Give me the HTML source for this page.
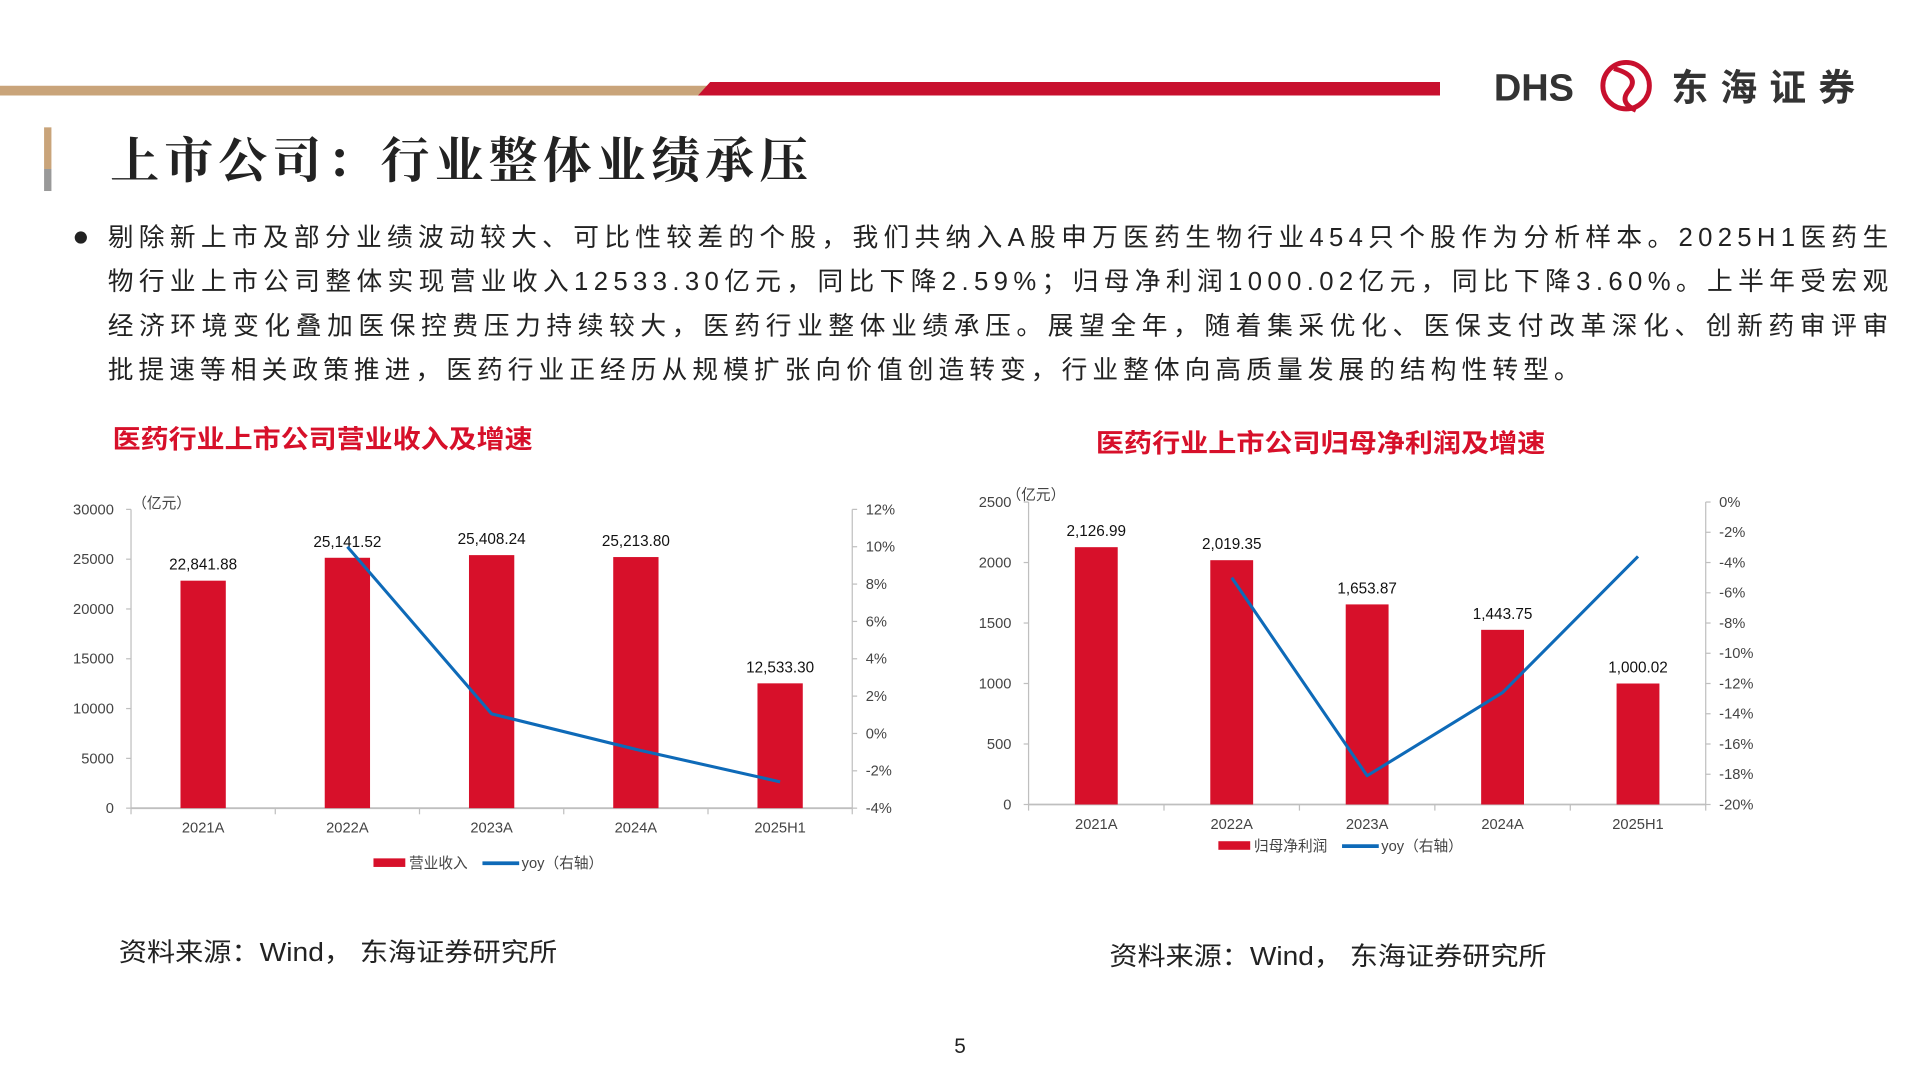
<!DOCTYPE html>
<html><head><meta charset="utf-8">
<style>
html,body{margin:0;padding:0;background:#fff;}
svg{display:block;font-family:"Liberation Sans","Noto Sans CJK SC",sans-serif;}
</style></head>
<body>
<svg id="page" width="1920" height="1080" viewBox="0 0 1568 882" xmlns="http://www.w3.org/2000/svg">
  <polygon points="0,70 580,70 572,78 0,78" fill="#c9a47a"/>
  <polygon points="580,67 1176,67 1176,78 570,78" fill="#c8102e"/>
  <g>
    <text x="1220" y="82" font-size="31" font-weight="bold" fill="#333" font-family="Liberation Sans,sans-serif">DHS</text>
    <circle cx="1328" cy="70" r="19" fill="none" stroke="#c8102e" stroke-width="4"/>
    <path d="M1318 56 Q1340 62 1330 74 Q1322 84 1336 90" fill="none" stroke="#c8102e" stroke-width="4"/>
    <text x="1365" y="82" font-size="30" font-weight="bold" fill="#333" textLength="150" lengthAdjust="spacing" font-family="'Noto Sans CJK SC',sans-serif">东海证券</text>
  </g>
  <rect x="36" y="104" width="6" height="34" fill="#c9a47a"/>
  <rect x="36" y="138" width="6" height="18" fill="#999"/>
  <text x="90" y="145" font-size="40" font-weight="bold" fill="#222" textLength="570" lengthAdjust="spacing" font-family="'Noto Serif CJK SC','Noto Sans CJK SC',serif">上市公司：行业整体业绩承压</text>
  <circle cx="66" cy="194" r="5" fill="#222"/>
  <g font-size="21" fill="#222">
    <text x="88" y="201" textLength="1454" lengthAdjust="spacing">剔除新上市及部分业绩波动较大、可比性较差的个股，我们共纳入A股申万医药生物行业454只个股作为分析样本。2025H1医药生</text>
    <text x="88" y="237" textLength="1454" lengthAdjust="spacing">物行业上市公司整体实现营业收入12533.30亿元，同比下降2.59%；归母净利润1000.02亿元，同比下降3.60%。上半年受宏观</text>
    <text x="88" y="273" textLength="1454" lengthAdjust="spacing">经济环境变化叠加医保控费压力持续较大，医药行业整体业绩承压。展望全年，随着集采优化、医保支付改革深化、创新药审评审</text>
    <text x="88" y="309" textLength="1202" lengthAdjust="spacing">批提速等相关政策推进，医药行业正经历从规模扩张向价值创造转变，行业整体向高质量发展的结构性转型。</text>
  </g>
  <text x="92" y="366" font-size="21" font-weight="bold" fill="#d7102a" textLength="343" lengthAdjust="spacingAndGlyphs">医药行业上市公司营业收入及增速</text>
  <text x="895" y="369" font-size="21" font-weight="bold" fill="#d7102a" textLength="367" lengthAdjust="spacingAndGlyphs">医药行业上市公司归母净利润及增速</text>
  <g id="chart1"></g>
  <g id="chart2"></g>
  <text x="97" y="785" font-size="21" fill="#222" textLength="358" lengthAdjust="spacingAndGlyphs">资料来源：Wind， 东海证券研究所</text>
  <text x="906" y="788" font-size="21" fill="#222" textLength="357" lengthAdjust="spacingAndGlyphs">资料来源：Wind， 东海证券研究所</text>
  <text x="784" y="860" font-size="17" fill="#222" text-anchor="middle">5</text>
</svg>
<script>
const categories = ["2021A","2022A","2023A","2024A","2025H1"];
const revenueValues = [22841.88, 25141.52, 25408.24, 25213.80, 12533.30];
const revenueLabels = ["22,841.88","25,141.52","25,408.24","25,213.80","12,533.30"];
const revenueYoy = [null, 10.0, 1.05, -0.85, -2.59];
const revLeftTicks = [0,5000,10000,15000,20000,25000,30000];
const revRightTicks = [-4,-2,0,2,4,6,8,10,12];
const profitValues = [2126.99, 2019.35, 1653.87, 1443.75, 1000.02];
const profitLabels = ["2,126.99","2,019.35","1,653.87","1,443.75","1,000.02"];
const profitYoy = [null, -5.0, -18.1, -12.6, -3.6];
const profLeftTicks = [0,500,1000,1500,2000,2500];
const profRightTicks = [-20,-18,-16,-14,-12,-10,-8,-6,-4,-2,0];

const NS = "http://www.w3.org/2000/svg";
function mk(parent, tag, attrs, txt){
  const e = document.createElementNS(NS, tag);
  for (const k in attrs) e.setAttribute(k, attrs[k]);
  if (txt !== undefined) e.textContent = txt;
  parent.appendChild(e);
  return e;
}
function drawChart(g, cfg){
  const L=cfg.x0, R=cfg.x1, T=cfg.yTop, B=cfg.y0;
  const lMin=cfg.lTicks[0], lMax=cfg.lTicks[cfg.lTicks.length-1];
  const rMin=cfg.rTicks[0], rMax=cfg.rTicks[cfg.rTicks.length-1];
  const yL = v => B - (v-lMin)/(lMax-lMin)*(B-T);
  const yR = v => B - (v-rMin)/(rMax-rMin)*(B-T);
  const n = cfg.cats.length, step=(R-L)/n;
  const xC = i => L + step*(i+0.5);
  const fs = 12;
  let e = mk(g,'line',{x1:L,y1:T,x2:L,y2:B,stroke:'#bfbfbf','stroke-width':1});
   
  e = mk(g,'line',{x1:R,y1:T,x2:R,y2:B,stroke:'#bfbfbf','stroke-width':1});
   
  e = mk(g,'line',{x1:L,y1:B,x2:R,y2:B,stroke:'#bfbfbf','stroke-width':1.5});
   
  for (let i=0;i<=n;i++){ mk(g,'line',{x1:L+step*i,y1:B,x2:L+step*i,y2:B+5,stroke:'#bfbfbf'}); }
  cfg.lTicks.forEach(t=>{
    mk(g,'line',{x1:L-4,y1:yL(t),x2:L,y2:yL(t),stroke:'#bfbfbf'});
    e = mk(g,'text',{x:L-14,y:yL(t)+4,'font-size':fs,fill:'#444','text-anchor':'end'},String(t));
     
  });
  cfg.rTicks.forEach(t=>{
    mk(g,'line',{x1:R,y1:yR(t),x2:R+4,y2:yR(t),stroke:'#bfbfbf'});
    e = mk(g,'text',{x:R+11,y:yR(t)+4,'font-size':fs,fill:'#444'},t+'%');
     
  });
  e = mk(g,'text',{x:cfg.unitX,y:cfg.unitY,'font-size':fs,fill:'#444'},'（亿元）');
   
  cfg.vals.forEach((v,i)=>{
    const bw=cfg.bw;
    const b = mk(g,'rect',{x:xC(i)-bw/2,y:yL(v),width:bw,height:B-yL(v),fill:'#d7102a'});
    
    
    const t = mk(g,'text',{x:xC(i),y:yL(v)-9,'font-size':12.5,fill:'#111','text-anchor':'middle'},cfg.labels[i]);
    
    
    const c = mk(g,'text',{x:xC(i),y:B+20,'font-size':fs,fill:'#444','text-anchor':'middle'},cfg.cats[i]);
    
    
  });
  const pts=[];
  cfg.yoy.forEach((v,i)=>{ if(v!==null) pts.push(xC(i)+','+yR(v)); });
  const pl = mk(g,'polyline',{points:pts.join(' '),fill:'none',stroke:'#0e6ab8','stroke-width':2.5,'stroke-linejoin':'round'});
  
  
  const lg = mk(g,'g',{});
  
  
  const lx=cfg.legX, ly=cfg.legY;
  mk(lg,'rect',{x:lx,y:ly-4,width:26,height:7,fill:'#d7102a'});
  const t1 = mk(lg,'text',{x:lx+29,y:ly+4,'font-size':fs,fill:'#444'},cfg.barName);
   
  const ox = lx+29+cfg.barName.length*12+12;
  mk(lg,'line',{x1:ox,y1:ly,x2:ox+30,y2:ly,stroke:'#0e6ab8','stroke-width':3});
  const t2 = mk(lg,'text',{x:ox+32,y:ly+4,'font-size':fs,fill:'#444'},'yoy（右轴）');
   
}
drawChart(document.getElementById('chart1'),{
  x0:107,x1:696,yTop:416,y0:660,cats:categories,vals:revenueValues,labels:revenueLabels,yoy:revenueYoy,
  lTicks:revLeftTicks,rTicks:revRightTicks,bw:37,unitX:108,unitY:415,legX:305,legY:705,barName:'营业收入'
});
drawChart(document.getElementById('chart2'),{
  x0:840,x1:1393,yTop:410,y0:657,cats:categories,vals:profitValues,labels:profitLabels,yoy:profitYoy,
  lTicks:profLeftTicks,rTicks:profRightTicks,bw:35,unitX:822,unitY:408,legX:995,legY:691,barName:'归母净利润'
});
</script>
</body></html>
